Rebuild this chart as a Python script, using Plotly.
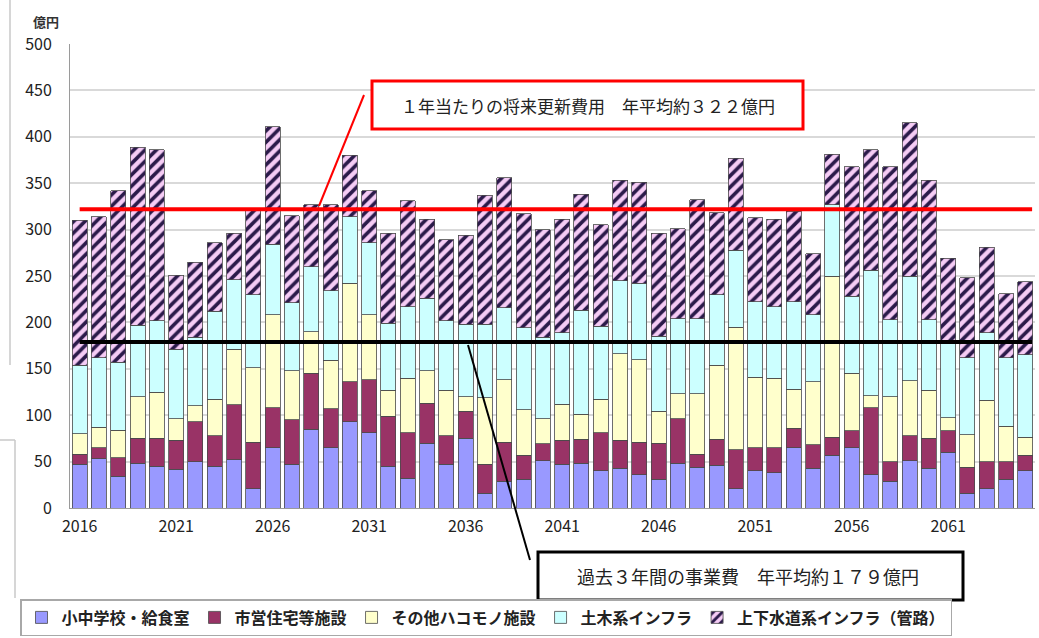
import plotly.graph_objects as go

years = list(range(2016, 2066))
tick_years = [2016, 2021, 2026, 2031, 2036, 2041, 2046, 2051, 2056, 2061]

school = [47, 53, 34, 48, 45, 42, 50, 45, 52, 21, 65, 47, 85, 65, 93, 81, 45, 32, 70, 47,
          75, 16, 29, 31, 51, 47, 48, 40, 43, 36, 31, 48, 44, 46, 21, 40, 38, 65, 43, 57,
          65, 36, 29, 51, 43, 60, 16, 21, 31, 40]
housing = [11, 12, 20, 27, 30, 31, 43, 33, 59, 50, 43, 48, 60, 42, 43, 57, 54, 49, 43, 31,
           29, 31, 42, 26, 18, 26, 26, 41, 30, 35, 39, 48, 14, 28, 42, 25, 27, 21, 25, 19,
           18, 72, 21, 27, 32, 23, 28, 29, 19, 17]
other_bldg = [22, 22, 30, 45, 50, 23, 17, 39, 60, 80, 100, 53, 45, 52, 106, 70, 28, 59, 35, 49,
              16, 72, 67, 49, 27, 39, 27, 36, 93, 89, 34, 27, 65, 80, 132, 76, 75, 42, 68, 174,
              62, 13, 70, 59, 52, 14, 35, 66, 38, 19]
civil = [74, 75, 73, 77, 77, 75, 74, 95, 75, 79, 76, 73, 70, 75, 72, 78, 72, 77, 78, 75,
         78, 79, 78, 88, 88, 77, 112, 79, 79, 82, 81, 81, 81, 76, 83, 81, 77, 94, 72, 77,
         83, 135, 83, 113, 76, 80, 83, 73, 74, 89]
water = [156, 152, 185, 192, 184, 80, 81, 74, 50, 91, 127, 94, 67, 93, 66, 56, 97, 114, 85, 87,
         96, 139, 140, 123, 116, 122, 125, 109, 108, 109, 111, 97, 128, 88, 99, 91, 94, 98, 66, 54,
         140, 130, 165, 165, 150, 92, 86, 92, 69, 79]

series_names = ["小中学校・給食室", "市営住宅等施設", "その他ハコモノ施設", "土木系インフラ", "上下水道系インフラ（管路）"]

avg_future = 322
avg_past = 179
label_future = "１年当たりの将来更新費用　年平均約３２２億円"
label_past = "過去３年間の事業費　年平均約１７９億円"
unit_label = "億円"

FONT = "Noto Sans CJK JP"
outline = dict(color="#4a4a4a", width=0.8)

fig = go.Figure()
solid = [(school, "#9999FF"), (housing, "#993366"), (other_bldg, "#FFFFCC"), (civil, "#CCFFFF")]
for (vals, color), name in zip(solid, series_names[:4]):
    fig.add_trace(go.Bar(x=years, y=vals, name=name,
                         marker=dict(color=color, line=outline)))
fig.add_trace(go.Bar(x=years, y=water, name=series_names[4],
                     marker=dict(color="#F5CCF5", line=outline,
                                 pattern=dict(shape="/", fgcolor="#2B1A4A", bgcolor="#F5CCF5",
                                              size=8, solidity=0.45, fillmode="replace"))))

fig.add_trace(go.Scatter(x=[years[0], years[-1] + 0.35], y=[avg_future, avg_future], mode="lines",
                         line=dict(color="#FF0000", width=4), showlegend=False, hoverinfo="skip"))
fig.add_trace(go.Scatter(x=[years[0], years[-1] + 0.35], y=[avg_past, avg_past], mode="lines",
                         line=dict(color="#000000", width=4), showlegend=False, hoverinfo="skip"))

W, H = 1039, 638
L, R, T, B = 70, 4, 44, 130
PW, PH = W - L - R, H - T - B


def px(xp):
    return (xp - L) / PW


def py(yp):
    return (H - B - yp) / PH


shapes = [
    # red callout box + leader
    dict(type="rect", xref="paper", yref="paper", x0=px(372), x1=px(803), y0=py(129), y1=py(81),
         line=dict(color="#FF0000", width=3), fillcolor="white", layer="above"),
    dict(type="line", xref="paper", yref="paper", x0=px(364), y0=py(95), x1=px(319), y1=py(206),
         line=dict(color="#FF0000", width=2)),
    # black callout box + leader
    dict(type="rect", xref="paper", yref="paper", x0=px(538), x1=px(963), y0=py(600), y1=py(552),
         line=dict(color="#000000", width=3), fillcolor="white", layer="above"),
    dict(type="line", xref="paper", yref="paper", x0=px(468), y0=py(345), x1=px(530), y1=py(560),
         line=dict(color="#000000", width=2)),
    # page border fragments at the left edge
    dict(type="line", xref="paper", yref="paper", x0=px(10), x1=px(10), y0=py(0), y1=py(365),
         line=dict(color="#C8C8C8", width=1.5)),
    dict(type="line", xref="paper", yref="paper", x0=px(0), x1=px(15), y0=py(440), y1=py(440),
         line=dict(color="#C8C8C8", width=1.5)),
    dict(type="line", xref="paper", yref="paper", x0=px(15), x1=px(15), y0=py(440), y1=py(598),
         line=dict(color="#C8C8C8", width=1.5)),
]

annotations = [
    dict(text=label_future, xref="paper", yref="paper", x=px(588), y=py(105), showarrow=False,
         font=dict(family=FONT, size=17, color="#222222"), xanchor="center", yanchor="middle"),
    dict(text=label_past, xref="paper", yref="paper", x=px(748), y=py(576), showarrow=False,
         font=dict(family=FONT, size=18, color="#222222"), xanchor="center", yanchor="middle"),
    dict(text="<b>" + unit_label + "</b>", xref="paper", yref="paper", x=px(46), y=py(21), showarrow=False,
         font=dict(family=FONT, size=13, color="#333333"), xanchor="center", yanchor="middle"),
]

fig.update_layout(
    width=W, height=H,
    margin=dict(l=L, r=R, t=T, b=B),
    barmode="stack", bargap=0.22,
    plot_bgcolor="white", paper_bgcolor="white",
    font=dict(family=FONT, size=15, color="#222222"),
    shapes=shapes, annotations=annotations,
    legend=dict(orientation="h", traceorder="normal",
                xref="container", yref="container",
                x=20 / W, y=1 - 599 / H, xanchor="left", yanchor="top",
                bordercolor="#A8A8A8", borderwidth=1.5, bgcolor="white",
                font=dict(family=FONT, size=16, color="#222222", weight="bold")),
    xaxis=dict(range=[2015.5, 2065.5], tickmode="array", tickvals=tick_years,
               ticktext=[str(y) for y in tick_years], showgrid=False,
               showline=True, linecolor="#9a9a9a", linewidth=1, ticks="",
               ticklabelstandoff=4,
               tickfont=dict(size=16, color="#222222")),
    yaxis=dict(range=[0, 500], dtick=50, showgrid=True, gridcolor="#D9D9D9", gridwidth=1.5,
               showline=True, linecolor="#9a9a9a", linewidth=1, ticks="", zeroline=False,
               ticklabelstandoff=14,
               tickfont=dict(size=16, color="#222222")),
)

fig.write_html("out.html")
